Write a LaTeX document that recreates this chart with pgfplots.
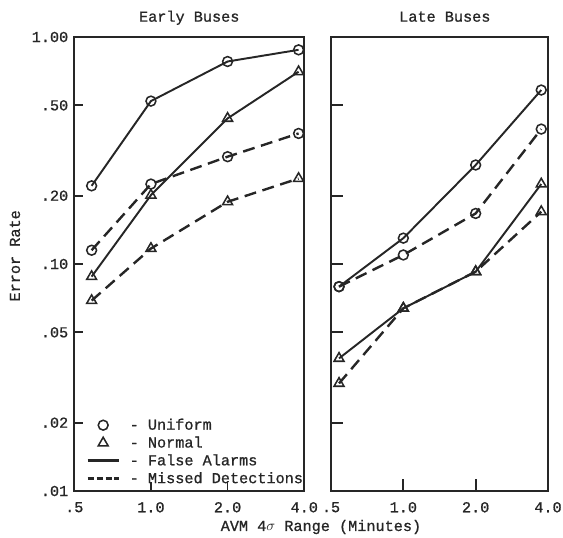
\documentclass[border=0pt]{standalone}
\usepackage{fontspec}
\setmainfont{Liberation Mono}[RawFeature={embolden=0.9}]
\usepackage{pgfplots}
\pgfplotsset{compat=1.18}
\definecolor{ink}{gray}{0.15}
\newcommand{\f}{\fontsize{11.4pt}{13.7pt}\selectfont}
\pgfplotsset{legend image code/.code={\draw[mark repeat=2,mark phase=2,#1] plot coordinates {(0cm,0cm) (0.41cm,0cm) (0.82cm,0cm)};}}

\pgfplotstableread{
x y
0.585 0.221
1.0 0.522
2.0 0.780
3.8 0.878
}\earlyUF
\pgfplotstableread{
x y
0.585 0.088
1.0 0.201
2.0 0.438
3.8 0.703
}\earlyNF
\pgfplotstableread{
x y
0.585 0.115
1.0 0.225
2.0 0.297
3.8 0.376
}\earlyUM
\pgfplotstableread{
x y
0.585 0.069
1.0 0.117
2.0 0.188
3.8 0.238
}\earlyNM
\pgfplotstableread{
x y
0.54 0.0795
1.0 0.130
2.0 0.273
3.75 0.584
}\lateUF
\pgfplotstableread{
x y
0.54 0.0795
1.0 0.1096
2.0 0.167
3.75 0.393
}\lateUM
\pgfplotstableread{
x y
0.54 0.0384
1.0 0.0638
2.0 0.0925
3.75 0.225
}\lateNF
\pgfplotstableread{
x y
0.54 0.0298
1.0 0.0638
2.0 0.0925
3.75 0.170
}\lateNM

\tikzset{
  solidU/.style={ink, line width=1.45pt, mark=o, mark size=3.7pt,
    mark options={solid, fill=white, line width=1.15pt}},
  solidN/.style={ink, line width=1.45pt, mark=triangle, mark size=4.3pt,
    mark options={solid, fill=white, line width=1.15pt}},
  dashU/.style={ink, line width=1.8pt, dash pattern=on 9pt off 5pt, mark=o, mark size=3.7pt,
    mark options={solid, fill=white, line width=1.15pt}},
  dashN/.style={ink, line width=1.8pt, dash pattern=on 9pt off 5pt, mark=triangle, mark size=4.3pt,
    mark options={solid, fill=white, line width=1.15pt}},
}

\begin{document}
\begin{tikzpicture}[font=\f]
\useasboundingbox (0pt,0pt) rectangle (422.25pt,402.75pt);
\begin{axis}[scale only axis, anchor=south west, at={(55.7pt,34.5pt)},
  width=172.5pt, height=340.5pt,
  xmode=log, ymode=log, xmin=0.5, xmax=4, ymin=0.01, ymax=1,
  xtick={0.5,1,2,4}, xticklabels={.5,1.0,2.0,4.0},
  ytick={0.01,0.02,0.05,0.1,0.2,0.5,1},
  yticklabels={.01,.02,.05,.10,.20,.50,1.00},
  minor xtick={}, minor ytick={},
  tick align=inside, xtick pos=bottom, ytick pos=left,
  axis line style={ink, line width=1.3pt},
  tick style={ink, line width=1.3pt},
  major tick length=6.75pt,
  tick label style={font=\f, text=ink},
  xticklabel style={yshift=-4.8pt},
  yticklabel style={xshift=-1pt},
  title style={font=\f, text=ink, at={(0.5,1)}, anchor=base, yshift=5.5pt},
  clip=false,
  title={Early Buses},
  ylabel={Error Rate},
  xlabel={AVM 4$\sigma$ Range (Minutes)},
  every axis y label/.style={at={(axis description cs:-0.258,0.518)}, rotate=90, anchor=center, font=\f, text=ink},
  every axis x label/.style={at={(axis description cs:1.0726,-0.0793)}, anchor=center, font=\f, text=ink},
  legend style={draw=none, fill=none, at={(axis description cs:0.05,0.0065)}, anchor=south west,
    font=\f, text=ink, inner sep=0pt, row sep=-0.4pt,
    /tikz/every odd column/.append style={column sep=5pt}},
  legend cell align=left,
]
\addplot[dashU, forget plot] table {\earlyUM};
\addplot[dashN, forget plot] table {\earlyNM};
\addplot[solidU, forget plot] table {\earlyUF};
\addplot[solidN, forget plot] table {\earlyNF};
\addlegendimage{only marks, ink, mark=o, mark size=3.7pt, mark options={fill=white, line width=1.15pt}}
\addlegendentry{- Uniform}
\addlegendimage{only marks, ink, mark=triangle, mark size=4.3pt, mark options={fill=white, line width=1.15pt}}
\addlegendentry{- Normal}
\addlegendimage{ink, line width=2.4pt}
\addlegendentry{- False Alarms}
\addlegendimage{ink, line width=2.4pt, dash pattern=on 4.5pt off 2.2pt}
\addlegendentry{- Missed Detections}
\end{axis}
\begin{axis}[scale only axis, anchor=south west, at={(248.25pt,34.5pt)},
  width=162.75pt, height=340.5pt,
  xmode=log, ymode=log, xmin=0.5, xmax=4, ymin=0.01, ymax=1,
  xtick={0.5,1,2,4}, xticklabels={.5,1.0,2.0,4.0},
  ytick={0.01,0.02,0.05,0.1,0.2,0.5,1},
  yticklabels={},
  minor xtick={}, minor ytick={},
  tick align=inside, xtick pos=bottom, ytick pos=left,
  axis line style={ink, line width=1.3pt},
  tick style={ink, line width=1.3pt},
  major tick length=9pt,
  tick label style={font=\f, text=ink},
  xticklabel style={yshift=-4.8pt},
  title style={font=\f, text=ink, at={(0.5,1)}, anchor=base, yshift=5.5pt, xshift=4pt},
  clip=false,
  title={Late Buses},
]
\addplot[dashU, forget plot] table {\lateUM};
\addplot[dashN, forget plot] table {\lateNM};
\addplot[solidU, forget plot] table {\lateUF};
\addplot[solidN, forget plot] table {\lateNF};
\end{axis}
\end{tikzpicture}
\end{document}
